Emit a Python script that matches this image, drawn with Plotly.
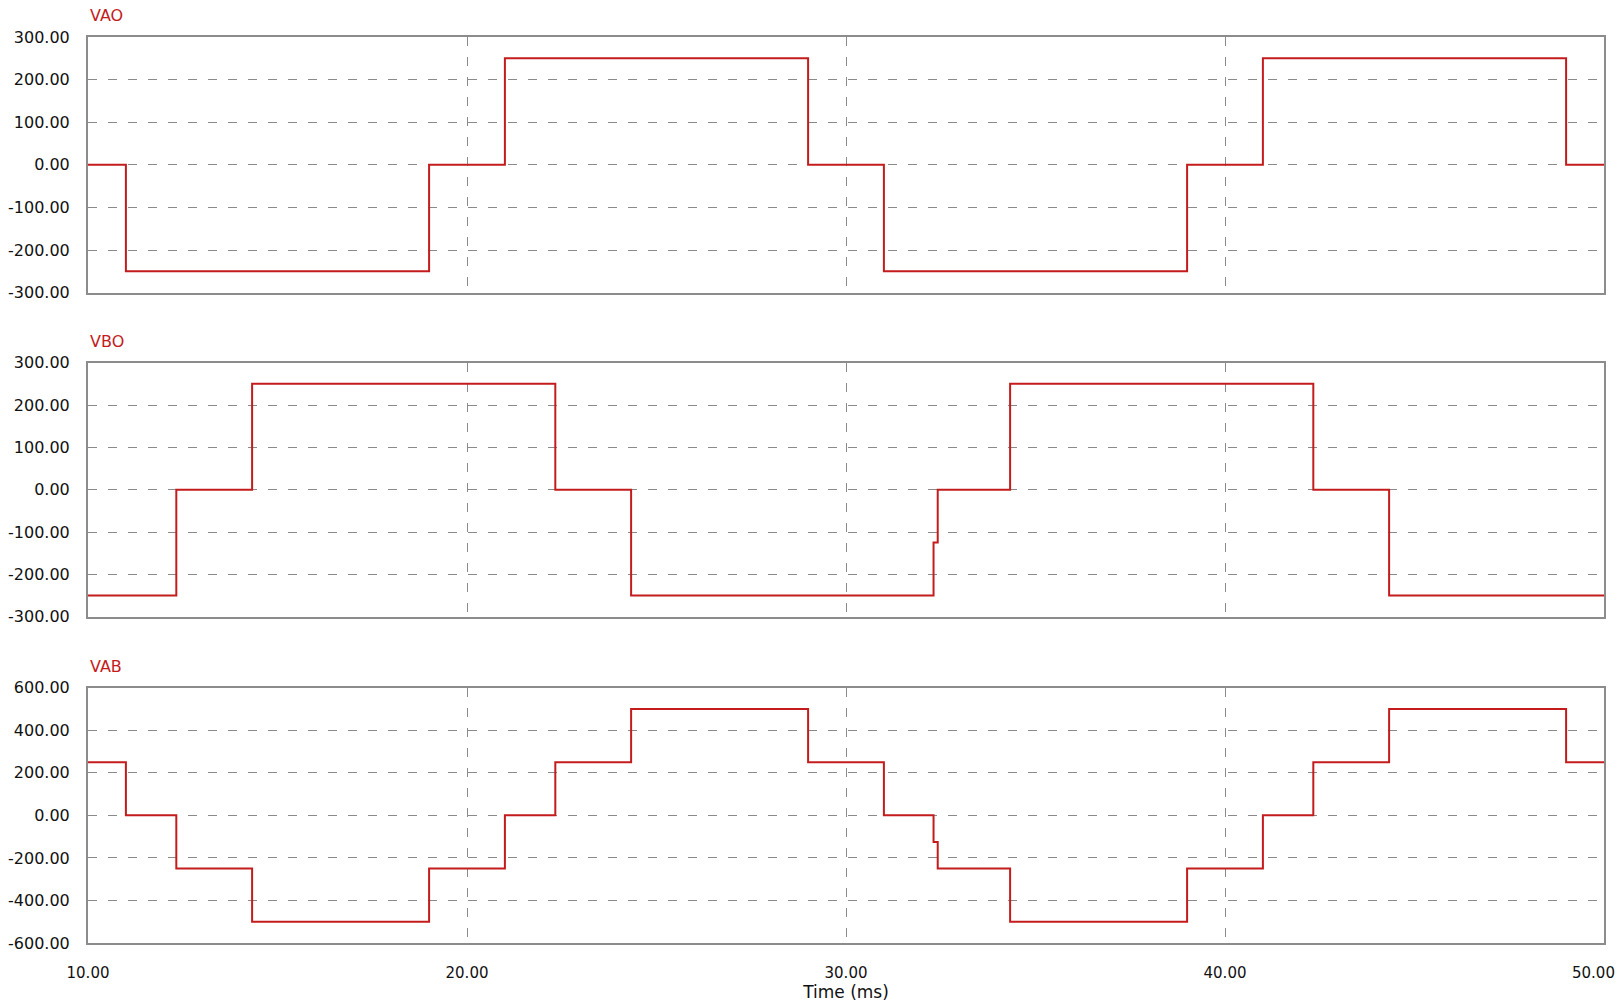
import plotly.graph_objects as go

# ---- data (time in ms, voltage in V) ----
t_vao = [10.0, 11.0, 19.0, 21.0, 29.0, 31.0, 39.0, 41.0, 49.0, 50.0]
v_vao = [0, -250, 0, 250, 0, -250, 0, 250, 0, 0]

t_vbo = [10.0, 12.33, 14.33, 22.33, 24.33, 32.31, 32.42, 34.33, 42.33, 44.33, 50.0]
v_vbo = [-250, 0, 250, 0, -250, -125, 0, 250, 0, -250, -250]

t_vab = [10.0, 11.0, 12.33, 14.33, 19.0, 21.0, 22.33, 24.33, 29.0, 31.0, 32.31, 32.42, 34.33, 39.0, 41.0, 42.33, 44.33, 49.0, 50.0]
v_vab = [250, 0, -250, -500, -250, 0, 250, 500, 250, 0, -125, -250, -500, -250, 0, 250, 500, 250, 250]

x_ticks = [10, 20, 30, 40, 50]
x_ticktext = ["10.00", "20.00", "30.00", "40.00", "50.00"]
y_ticks_300 = [300, 200, 100, 0, -100, -200, -300]
y_ticktext_300 = ["300.00", "200.00", "100.00", "0.00", "-100.00", "-200.00", "-300.00"]
y_ticks_600 = [600, 400, 200, 0, -200, -400, -600]
y_ticktext_600 = ["600.00", "400.00", "200.00", "0.00", "-200.00", "-400.00", "-600.00"]
titles = ["VAO", "VBO", "VAB"]

RED = "#C41C1C"
GRID = "#8a8a8a"
BORDER = "#8c8c8c"
FONT = "DejaVu Sans"
TICKFONT_X = dict(family=FONT, size=15, color="#111")

fig = go.Figure()
series = [(t_vao, v_vao), (t_vbo, v_vbo), (t_vab, v_vab)]
for i, (t, v) in enumerate(series):
    sfx = "" if i == 0 else str(i + 1)
    fig.add_trace(go.Scatter(x=t, y=v, mode="lines", line=dict(color=RED, width=2, shape="hv"),
                             xaxis="x" + sfx, yaxis="y" + sfx, showlegend=False, hoverinfo="skip"))

domains = [[0.7178, 1.0], [0.3602, 0.6405], [0.0, 0.2818]]
# the last x tick label sits at the right edge of the page; it is drawn as an annotation nudged inward
shown_ticktext = x_ticktext[:-1] + [""]
common_x = dict(range=[10, 50], tickvals=x_ticks, ticktext=shown_ticktext, showline=True, mirror=True,
                linecolor=BORDER, linewidth=2, showgrid=True, gridcolor=GRID, gridwidth=1.3,
                griddash="9px,11px", zeroline=False, ticks="", ticklabelstandoff=15,
                automargin=False, ticklabeloverflow="allow", tickfont=TICKFONT_X)
layout = dict(width=1622, height=1008, margin=dict(l=88, r=18, t=37, b=65, autoexpand=False),
              plot_bgcolor="white", paper_bgcolor="white", annotations=[])
for i in range(3):
    sfx = "" if i == 0 else str(i + 1)
    xa = dict(common_x)
    xa["anchor"] = "y" + sfx
    xa["showticklabels"] = (i == 2)
    if i > 0:
        xa["matches"] = "x"
    if i == 2:
        xa["title"] = dict(text="Time (ms)", font=dict(family=FONT, size=17, color="#111"), standoff=0)
    layout["xaxis" + sfx] = xa
    if i < 2:
        tv, tt, rng = y_ticks_300, y_ticktext_300, [-300, 300]
    else:
        tv, tt, rng = y_ticks_600, y_ticktext_600, [-600, 600]
    layout["yaxis" + sfx] = dict(domain=domains[i], anchor="x" + sfx, range=rng, tickvals=tv, ticktext=tt,
                                 showline=True, mirror=True, linecolor=BORDER, linewidth=2,
                                 showgrid=True, gridcolor=GRID, gridwidth=1.3, griddash="9px,11px",
                                 zeroline=False, ticks="", ticklabelstandoff=13, automargin=False,
                                 ticklabeloverflow="allow",
                                 tickfont=dict(family=FONT, size=16, color="#111"))
    layout["annotations"].append(dict(text=titles[i], xref="x" + sfx + " domain", yref="y" + sfx + " domain",
                                      x=0, y=1, xanchor="left", yanchor="bottom", yshift=10, showarrow=False,
                                      font=dict(family=FONT, size=16, color=RED)))

layout["annotations"].append(dict(text=x_ticktext[-1], xref="x3", yref="y3 domain", x=x_ticks[-1], y=0,
                                  xanchor="right", yanchor="top", xshift=13, yshift=-19, showarrow=False,
                                  font=TICKFONT_X))

fig.update_layout(**layout)
fig.write_html("out.html", config={"displayModeBar": False},
               post_script="document.body.style.margin='0';document.body.style.overflow='hidden';")
